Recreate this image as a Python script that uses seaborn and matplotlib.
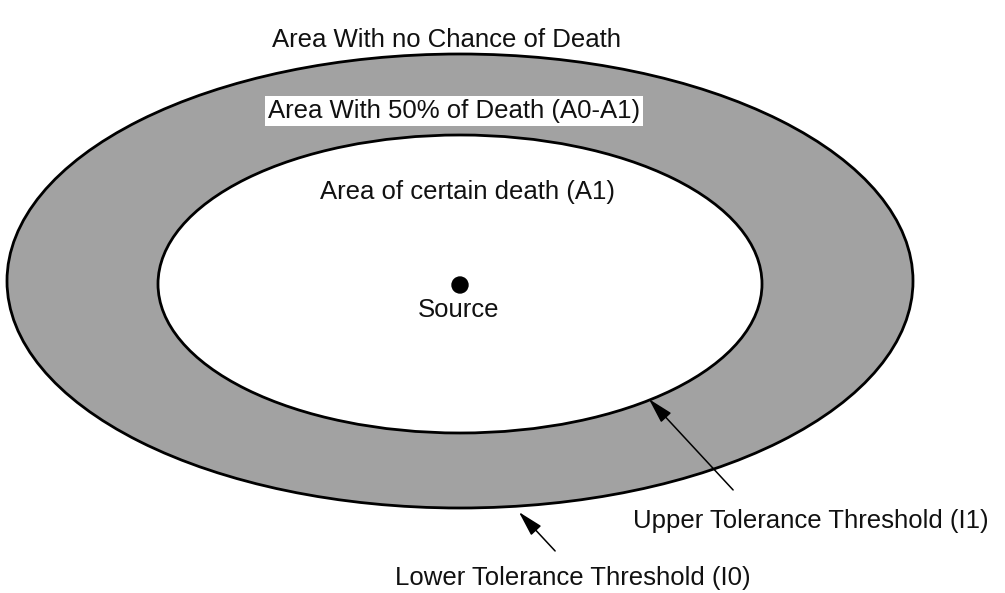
import matplotlib
matplotlib.use("Agg")
import matplotlib.pyplot as plt
from matplotlib.patches import Ellipse, Circle
import seaborn as sns

sns.set_theme(style="white")
plt.rcParams['font.family'] = ['Liberation Sans', 'DejaVu Sans']

# zones: name, centre x, centre y, width, height (pixel units of the diagram)
zone_names = ["A0 (lower threshold)", "A1 (upper threshold)"]
zone_cx = [460, 460]
zone_cy = [281, 284]
zone_w = [906, 604]
zone_h = [454, 298]
zone_fill = ["#a2a2a2", "white"]

source_xy = (460, 285)

labels = ["Area With no Chance of Death",
          "Area With 50% of Death (A0-A1)",
          "Area of certain death (A1)",
          "Source"]
label_x = [447, 454, 467, 459]
label_y = [40, 111, 192, 310]

arrow_text = ["Upper Tolerance Threshold (I1)", "Lower Tolerance Threshold (I0)"]
arrow_tip = [(647, 397), (517, 510)]
arrow_tail = [(735, 492), (557, 553)]
arrow_text_xy = [(633, 521), (395, 578)]

fig = plt.figure(figsize=(10.05, 5.93), dpi=100)
ax = fig.add_axes([0, 0, 1, 1])
ax.set_xlim(0, 1005)
ax.set_ylim(593, 0)
ax.axis("off")

for cx, cy, w, h, fc in zip(zone_cx, zone_cy, zone_w, zone_h, zone_fill):
    ax.add_patch(Ellipse((cx, cy), w, h, facecolor=fc, edgecolor="black", lw=2))

ax.add_patch(Circle(source_xy, 8, color="black"))

for i, (t, x, y) in enumerate(zip(labels, label_x, label_y)):
    kw = {}
    if i == 1:
        kw["bbox"] = dict(facecolor="white", edgecolor="none", pad=2)
    ax.text(x, y, t, ha="center", va="center", fontsize=18.5, color="#111111", **kw)

for t, tip, tail, txy in zip(arrow_text, arrow_tip, arrow_tail, arrow_text_xy):
    ax.annotate("", xy=tip, xytext=tail,
                arrowprops=dict(arrowstyle="-|>,head_length=1.3,head_width=0.35",
                                color="black", lw=1.1))
    ax.text(txy[0], txy[1], t, ha="left", va="center", fontsize=18.5, color="#111111")

fig.savefig("out.png", dpi=100)
